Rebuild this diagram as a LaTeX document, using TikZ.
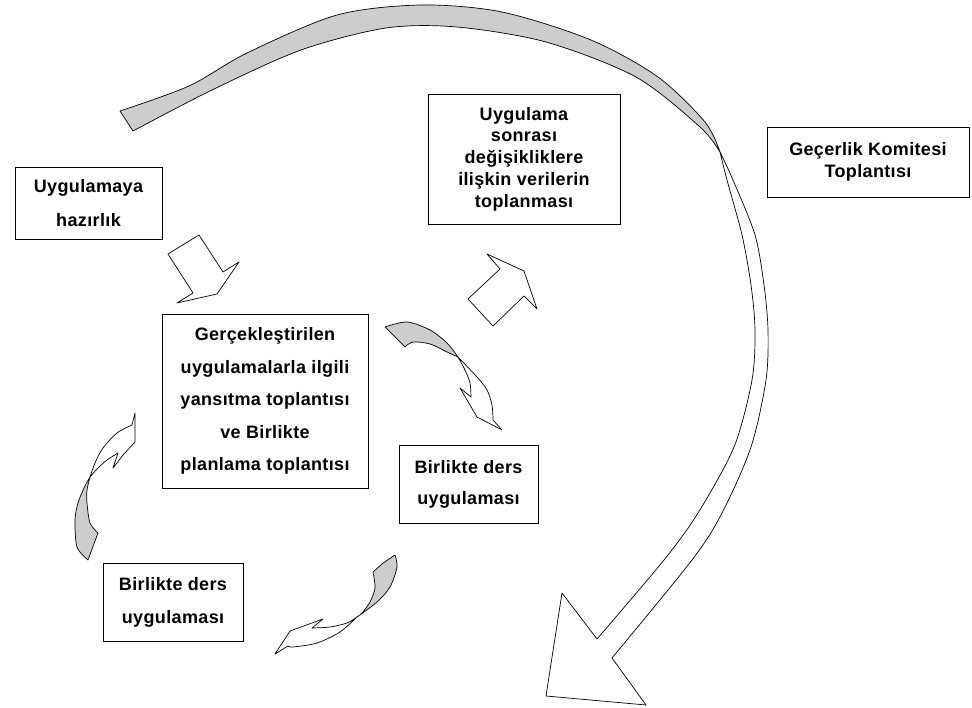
\documentclass[tikz,border=0pt]{standalone}
\usepackage{fontspec}
\setmainfont[LetterSpace=2]{Liberation Sans}
\definecolor{greyf}{RGB}{205,205,205}
\begin{document}
\begin{tikzpicture}[x=1pt,y=-1pt,
  bx/.style={draw, line width=0.9pt, inner sep=0pt, align=center},
  shp/.style={draw, line width=0.7pt, line join=round}]
\useasboundingbox (0,0) rectangle (972,708);

% boxes
\node[bx, minimum width=147pt, minimum height=72pt, font=\bfseries\fontsize{18}{34}\selectfont] (prep) at (88.5,203) {Uygulamaya\\hazırlık};
\node[bx, minimum width=206pt, minimum height=174pt, font=\bfseries\fontsize{18}{32.5}\selectfont] (refl) at (265,401) {Gerçekleştirilen\\uygulamalarla ilgili\\yansıtma toplantısı\\ve Birlikte\\planlama toplantısı};
\node[bx, minimum width=192pt, minimum height=130pt, font=\bfseries\fontsize{18}{21.7}\selectfont] (data) at (524,159) {Uygulama\\sonrası\\değişikliklere\\ilişkin verilerin\\toplanması};
\node[bx, minimum width=202pt, minimum height=70pt, font=\bfseries\fontsize{18}{22}\selectfont] (kom) at (868,162) {Geçerlik Komitesi\\Toplantısı};
\node[bx, minimum width=139pt, minimum height=78pt, font=\bfseries\fontsize{18}{31}\selectfont] (ders1) at (468.5,484) {Birlikte ders\\uygulaması};
\node[bx, minimum width=140pt, minimum height=78pt, font=\bfseries\fontsize{18}{33}\selectfont] (ders2) at (173,602) {Birlikte ders\\uygulaması};

% big arc arrow: grey back side
\filldraw[shp, fill=greyf] plot[smooth] coordinates {(120,111) (189,86) (247,53) (337,15) (421,5) (502,12) (591,40) (658,77) (705,122) (720,152)}
  -- plot[smooth] coordinates {(720,152) (700,127) (636,77) (546,42) (457,27) (386,28) (301,50) (212,90) (133,131)} -- cycle;
% big arc arrow: white front side with head
\filldraw[shp, fill=white] plot[smooth] coordinates {(720,152) (733,180) (755,235) (764,285) (768,330) (766,380) (751,447) (722,513) (692,560) (612,658)}
  -- (646,705) -- (546,696) -- (562,593) -- (597,639)
  -- plot[smooth] coordinates {(597,639) (664,560) (698,513) (734,447) (752,380) (755,330) (751,285) (742,235) (727,180) (720,152)} -- cycle;

% straight block arrows
\draw[shp] (168,254) -- (199,235) -- (223,272) -- (239,262) -- (217,294) -- (177,303) -- (193,293) -- cycle;
\draw[shp] (487,254) -- (524,271) -- (537,309) -- (524,296) -- (493,326) -- (468,299) -- (500,269) -- cycle;

% curved arrow: central box -> right Birlikte
\filldraw[shp, fill=greyf] plot[smooth] coordinates {(385,327) (407,322) (430,330) (447,343) (458,357)}
  -- plot[smooth] coordinates {(458,357) (447,352) (430,344) (413,342) (405,347)} -- cycle;
\filldraw[shp, fill=white] plot[smooth] coordinates {(458,357) (477,377) (487,390) (492,405) (493,420)}
  -- (502,430) -- (477,417) -- (460,388) -- (471,397)
  -- plot[smooth] coordinates {(471,397) (470,383) (465,370) (458,357)} -- cycle;

% curved arrow: left, going up to central box
\filldraw[shp, fill=greyf] plot[smooth] coordinates {(90,477) (84,488) (78,503) (75,520) (77,547) (88,560)}
  -- (98,533) -- plot[smooth] coordinates {(98,533) (90,523) (87,503) (87,490) (90,477)} -- cycle;
\filldraw[shp, fill=white] plot[smooth] coordinates {(90,477) (95,463) (103,448) (117,433) (132,425)}
  -- (135,413) -- (135,442) -- (123,455) -- (113,468) -- (118,453)
  -- plot[smooth] coordinates {(118,453) (107,460) (98,468) (90,477)} -- cycle;

% curved arrow: bottom, right Birlikte -> left Birlikte
\filldraw[shp, fill=greyf] plot[smooth] coordinates {(357,617) (377,602) (390,587) (397,567) (395,555)}
  -- (383,563) -- plot[smooth] coordinates {(373,572) (375,588) (370,602) (362,613) (357,617)} -- cycle;
\filldraw[shp, fill=white] plot[smooth] coordinates {(357,617) (340,632) (317,643) (293,647) (288,646)}
  -- (275,654) -- (290,631) -- (323,619) -- (312,628)
  -- plot[smooth] coordinates {(312,628) (330,627) (347,623) (357,617)} -- cycle;
\end{tikzpicture}
\end{document}
